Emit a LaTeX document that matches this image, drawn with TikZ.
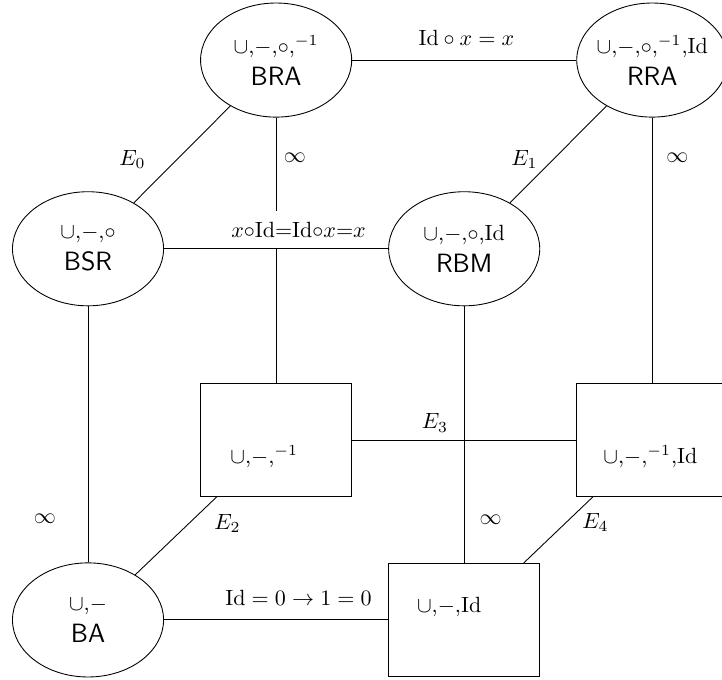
\documentclass[tikz,border=0pt]{standalone}
\usepackage{amsmath}
\usepackage{amsfonts}
\usetikzlibrary{shapes.geometric}

\begin{document}
\begin{tikzpicture}[
  alg/.style={draw, ellipse, minimum width=2.41cm, minimum height=1.82cm, inner sep=0pt, text width=1.7cm, align=center},
  sig/.style={draw, rectangle, minimum width=2.41cm, minimum height=1.8cm}
]

\useasboundingbox (-1.404,-0.957) rectangle (10.112,9.888);

\node[alg] (BA) at (0,0) {$\cup$,$-$\\[2.5pt]{\large\sffamily BA}};
\node[alg] (BSR) at (0,5.92) {$\cup$,$-$,$\circ$\\[2.5pt]{\large\sffamily BSR}};
\node[alg] (RBM) at (6,5.92) {$\cup$,$-$,$\circ$,Id\\[2.5pt]{\large\sffamily RBM}};
\node[alg] (BRA) at (3,8.93) {$\cup$,$-$,$\circ$,$^{-1}$\\[2.5pt]{\large\sffamily BRA}};
\node[alg] (RRA) at (9,8.93) {\makebox[1.7cm]{$\cup$,$-$,$\circ$,$^{-1}$,Id}\\[2.5pt]{\large\sffamily RRA}};
\node[sig] (inv) at (3,2.87) {};
\node[sig] (invid) at (9,2.87) {};
\node[sig] (id) at (6,0) {};
\node (invtxt) at ([shift={(-0.19,-0.27)}]inv.center) {$\cup$,$-$,$^{-1}$};
\node (invidtxt) at ([shift={(-0.03,-0.27)}]invid.center) {$\cup$,$-$,$^{-1}$,Id};
\node (idtxt) at ([shift={(-0.24,0.2)}]id.center) {$\cup$,$-$,Id};

\draw (BRA) -- node[pos=0.51, above=3pt] {$\mathrm{Id}\circ x=x$} (RRA);
\draw (BSR) -- node[pos=0.45, left=0.38cm] {$E_0$} (BRA);
\draw (RBM) -- node[pos=0.45, left=0.13cm] {$E_1$} (RRA);
\draw (BRA) -- node[pos=0.15, right] {$\infty$} (inv);
\draw (RRA) -- node[pos=0.15, right=0.1cm] {$\infty$} (invid);
\draw (BSR) -- node[pos=0.83, left=0.39cm] {$\infty$} (BA);
\draw (RBM) -- node[pos=0.83, right=0.12cm] {$\infty$} (id);
\draw (inv) -- node[pos=0.37, above] {$E_3$} (invid);
\draw (BA) -- node[pos=0.66, right=0.28cm] {$E_2$} (inv);
\draw (id) -- node[pos=0.61, right=0.14cm] {$E_4$} (invid);
\draw (BA) -- node[pos=0.6, above=3pt] {$\mathrm{Id}=0\to1=0$} (id);
\draw (BSR) -- node[pos=0.6, above, fill=white, inner ysep=5pt] {$x{\circ}\mathrm{Id}{=}\mathrm{Id}{\circ}x{=}x$} (RBM);

\end{tikzpicture}
\end{document}
